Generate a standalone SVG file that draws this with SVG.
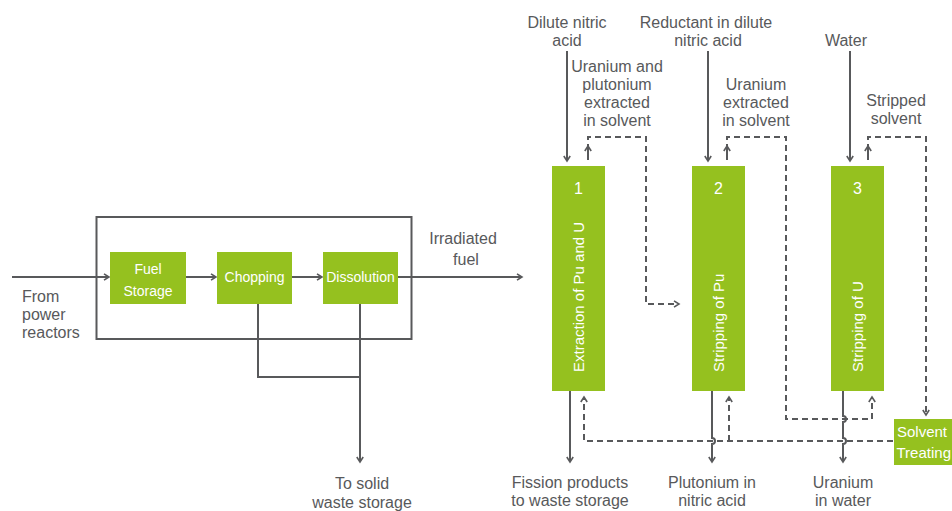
<svg xmlns="http://www.w3.org/2000/svg" width="952" height="511" viewBox="0 0 952 511">
<defs>
<style>
.lbl{font-family:"Liberation Sans",Arial,sans-serif;font-size:16px;fill:#58595b;text-anchor:middle}
.bx{fill:#95c11f}
.wt{font-family:"Liberation Sans",Arial,sans-serif;fill:#fff;text-anchor:middle}
.ln{fill:none;stroke:#58595b;stroke-width:2}
.ds{fill:none;stroke:#58595b;stroke-width:2;stroke-dasharray:6,4}
</style>
<marker id="ar" markerUnits="userSpaceOnUse" markerWidth="10" markerHeight="10" refX="6" refY="4" orient="auto">
<path d="M1,0.8 L6,4 L1,7.2" fill="none" stroke="#58595b" stroke-width="1.6"/>
</marker>
</defs>
<rect width="952" height="511" fill="#fff"/>

<g id="connectors">
<path class="ln" d="M12,277 H109" marker-end="url(#ar)"/>
<path class="ln" d="M186,277 H216" marker-end="url(#ar)"/>
<path class="ln" d="M292,277 H322" marker-end="url(#ar)"/>
<path class="ln" d="M398,277 H522" marker-end="url(#ar)"/>
<path class="ln" d="M258,304 V377 H360"/>
<path class="ln" d="M360,304 V462" marker-end="url(#ar)"/>
<path class="ln" d="M567,51 V161" marker-end="url(#ar)"/>
<path class="ln" d="M708,51 V161" marker-end="url(#ar)"/>
<path class="ln" d="M850,51 V161" marker-end="url(#ar)"/>
<path class="ln" d="M570,391 V462" marker-end="url(#ar)"/>
<path class="ln" d="M712,391 V438 a3,3 0 0 1 0,6 V462" marker-end="url(#ar)"/>
<path class="ln" d="M843,391 V416 a3,3 0 0 1 0,6 V438 a3,3 0 0 1 0,6 V462" marker-end="url(#ar)"/>
<path class="ds" d="M588,160 V137 H646 V304 H679" marker-end="url(#ar)"/>
<path class="ln" d="M588,160 V146" marker-end="url(#ar)"/>
<path class="ds" d="M727,160 V137 H786 V419 H872 V397" marker-end="url(#ar)"/>
<path class="ln" d="M727,160 V146" marker-end="url(#ar)"/>
<path class="ds" d="M868,160 V137 H926 V415" marker-end="url(#ar)"/>
<path class="ln" d="M868,160 V146" marker-end="url(#ar)"/>
<path class="ds" d="M893,441 H584 V397" marker-end="url(#ar)"/>
<path class="ds" d="M729,441 V397" marker-end="url(#ar)"/>
</g>

<g id="head-end">
<rect x="96.5" y="217" width="315" height="122" fill="none" stroke="#58595b" stroke-width="2"/>
</g>
<g id="fuel-storage">
<rect class="bx" x="110" y="252" width="76" height="52"/>
<text class="wt" font-size="14" x="148" y="274">Fuel</text>
<text class="wt" font-size="14" x="148" y="296">Storage</text>
</g>
<g id="chopping">
<rect class="bx" x="217" y="252" width="75" height="52"/>
<text class="wt" font-size="14" x="254.5" y="282">Chopping</text>
</g>
<g id="dissolution">
<rect class="bx" x="323" y="252" width="75" height="52"/>
<text class="wt" font-size="14" x="360.5" y="282">Dissolution</text>
</g>

<g id="col1">
<rect class="bx" x="552" y="166" width="53" height="225"/>
<text class="wt" font-size="16" x="578.5" y="194">1</text>
<text class="wt" font-size="15" transform="translate(584,372) rotate(-90)" style="text-anchor:start">Extraction of Pu and U</text>
</g>
<g id="col2">
<rect class="bx" x="692" y="166" width="53" height="225"/>
<text class="wt" font-size="16" x="718.5" y="194">2</text>
<text class="wt" font-size="15" transform="translate(724,372) rotate(-90)" style="text-anchor:start">Stripping of Pu</text>
</g>
<g id="col3">
<rect class="bx" x="831" y="166" width="53" height="225"/>
<text class="wt" font-size="16" x="857.5" y="194">3</text>
<text class="wt" font-size="15" transform="translate(863,372) rotate(-90)" style="text-anchor:start">Stripping of U</text>
</g>
<g id="solvent-treating">
<rect class="bx" x="894" y="419" width="60" height="46"/>
<text class="wt" font-size="15" x="897" y="437" style="text-anchor:start">Solvent</text>
<text class="wt" font-size="15" x="896.5" y="458" style="text-anchor:start">Treating</text>
</g>

<g id="labels">
<text class="lbl" x="22" y="302" style="text-anchor:start">From</text>
<text class="lbl" x="22" y="320" style="text-anchor:start">power</text>
<text class="lbl" x="22" y="338" style="text-anchor:start">reactors</text>
<text class="lbl" x="362" y="489">To solid</text>
<text class="lbl" x="362" y="508">waste storage</text>
<text class="lbl" x="463" y="244">Irradiated</text>
<text class="lbl" x="466" y="265">fuel</text>
<text class="lbl" x="567" y="28">Dilute nitric</text>
<text class="lbl" x="567" y="46">acid</text>
<text class="lbl" x="617" y="72">Uranium and</text>
<text class="lbl" x="617" y="90">plutonium</text>
<text class="lbl" x="617" y="108">extracted</text>
<text class="lbl" x="617" y="126">in solvent</text>
<text class="lbl" x="706" y="28">Reductant in dilute</text>
<text class="lbl" x="708" y="46">nitric acid</text>
<text class="lbl" x="756" y="90">Uranium</text>
<text class="lbl" x="756" y="108">extracted</text>
<text class="lbl" x="756" y="126">in solvent</text>
<text class="lbl" x="846" y="46">Water</text>
<text class="lbl" x="896" y="106">Stripped</text>
<text class="lbl" x="896" y="124">solvent</text>
<text class="lbl" x="570" y="488">Fission products</text>
<text class="lbl" x="570" y="506">to waste storage</text>
<text class="lbl" x="712" y="488">Plutonium in</text>
<text class="lbl" x="712" y="506">nitric acid</text>
<text class="lbl" x="843" y="488">Uranium</text>
<text class="lbl" x="843" y="506">in water</text>
</g>
</svg>
